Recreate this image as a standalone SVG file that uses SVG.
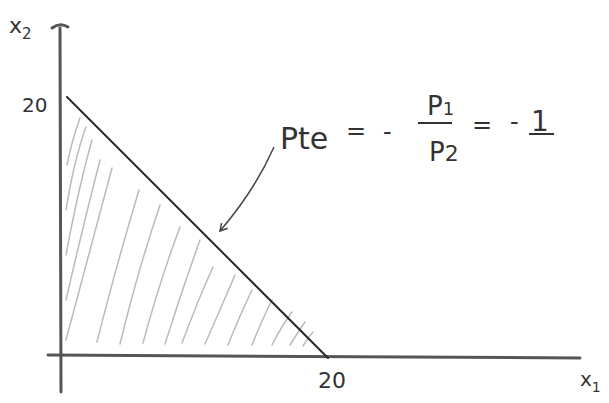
<svg xmlns="http://www.w3.org/2000/svg" width="609" height="403" viewBox="0 0 609 403">
<defs>
<style>
.ax{stroke:#555;stroke-width:3;fill:none;stroke-linecap:round}
.ln{stroke:#2a2a2a;stroke-width:2;fill:none;stroke-linecap:round}
.h{stroke:#bbb;stroke-width:1.5;fill:none;stroke-linecap:round}
.t{font-family:"DejaVu Sans","Liberation Sans",sans-serif;fill:#333}
</style>
<marker id="ah" markerWidth="10" markerHeight="10" refX="8" refY="5" orient="auto" markerUnits="userSpaceOnUse">
<path d="M1,1 L8,5 L1,9" fill="none" stroke="#444" stroke-width="1.5"/>
</marker>
</defs>
<rect width="609" height="403" fill="#fff"/>
<g id="axes">
<path class="ax" d="M60,28 L61,392"/>
<path class="ax" d="M52,28 Q60,22 68,27" stroke-width="2"/>
<path class="ax" d="M48,355 L580,358" stroke-width="2.5"/>
</g>
<g id="hatch">
<path class="h" d="M66,340 Q90,250 112,168"/>
<path class="h" d="M66,300 Q82,230 100,160"/>
<path class="h" d="M66,255 Q78,190 92,140"/>
<path class="h" d="M66,210 Q74,160 86,127"/>
<path class="h" d="M67,165 Q72,140 80,118"/>
<path class="h" d="M97,342 Q115,270 139,190"/>
<path class="h" d="M120,344 Q138,270 160,205"/>
<path class="h" d="M143,343 Q160,280 180,227"/>
<path class="h" d="M165,344 Q182,290 200,240"/>
<path class="h" d="M182,343 Q198,300 213,267"/>
<path class="h" d="M205,344 Q220,310 235,275"/>
<path class="h" d="M228,345 Q240,315 252,290"/>
<path class="h" d="M252,345 Q262,320 272,300"/>
<path class="h" d="M272,345 Q282,325 292,312"/>
<path class="h" d="M290,345 Q298,332 305,322"/>
<path class="h" d="M303,346 Q308,338 313,332"/>
</g>
<g id="budget-line">
<path class="ln" d="M67,97 L328,358"/>
</g>
<g id="connectors">
<path d="M274,147 Q255,190 220,231" stroke="#444" stroke-width="1.5" fill="none" marker-end="url(#ah)"/>
</g>
<g id="labels">
<text class="t" x="9" y="33" font-size="22">x<tspan font-size="15" dy="6">2</tspan></text>
<text class="t" x="22" y="112" font-size="20">20</text>
<text class="t" x="318" y="388" font-size="22">20</text>
<text class="t" x="580" y="386" font-size="20">x<tspan font-size="14" dy="6">1</tspan></text>
</g>
<g id="equation">
<text class="t" x="280" y="149" font-size="30">Pte</text>
<text class="t" x="346" y="139" font-size="24">=</text>
<text class="t" x="383" y="140" font-size="24">-</text>
<text class="t" x="427" y="115" font-size="26">P<tspan font-size="18">1</tspan></text>
<line x1="418" y1="123" x2="452" y2="123" stroke="#333" stroke-width="2"/>
<text class="t" x="429" y="161" font-size="26">P<tspan font-size="22">2</tspan></text>
<text class="t" x="472" y="133" font-size="24">=</text>
<text class="t" x="510" y="130" font-size="24">-</text>
<text class="t" x="531" y="131" font-size="28">1</text>
<line x1="529" y1="134" x2="554" y2="134" stroke="#333" stroke-width="2"/>
</g>
</svg>
